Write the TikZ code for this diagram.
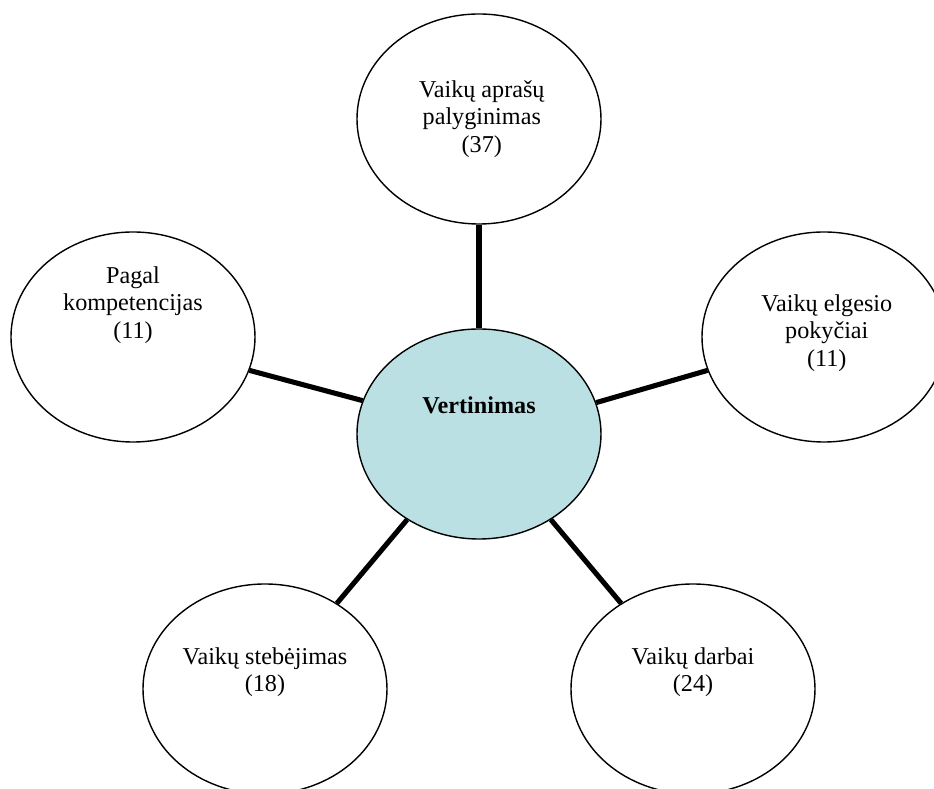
\documentclass[tikz,border=0pt]{standalone}
\usepackage{fontspec}
\setmainfont{Liberation Serif}
\usetikzlibrary{shapes.geometric,positioning}
\definecolor{evalblue}{RGB}{187,224,227}
\tikzstyle{bubble} = [ellipse, draw=black, line width=1pt, minimum width=6.1cm, minimum height=5.25cm, inner sep=0pt, fill=white]
\tikzstyle{spoke} = [line width=3.6pt]
\tikzstyle{txt} = [align=center, font=\fontsize{17.2}{19.4}\selectfont]
\pgfdeclarelayer{bg}
\pgfsetlayers{bg,main}

\begin{document}
\begin{tikzpicture}
    \useasboundingbox (-11.975,-8.875) rectangle (11.375,10.85);

    \node [bubble, fill=evalblue, label={[txt, yshift=0.725cm]center:\textbf{Vertinimas}}] (eval) at (0,0) {};

    \node [bubble, above of = eval, yshift = 6.875cm, label={[txt, xshift=0.07cm]center:Vaikų aprašų\\palyginimas\\(37)}] (compare) {};
    \node [bubble, left of = eval, xshift = -7.65cm, yshift = 2.425cm, label={[txt, yshift=0.8cm]center:Pagal\\kompetencijas\\(11)}] (competence) {};
    \node [bubble, right of = eval, xshift = 7.625cm, yshift = 2.425cm, label={[txt, xshift=0.07cm, yshift=0.1cm]center:Vaikų elgesio\\pokyčiai\\(11)}] (behaviour) {};
    \node [bubble, below of = eval, xshift = -5.35cm, yshift = -5.375cm, label={[txt, yshift=0.425cm]center:Vaikų stebėjimas\\(18)}] (observe) {};
    \node [bubble, below of = eval, xshift = 5.35cm, yshift = -5.375cm, label={[txt, yshift=0.425cm]center:Vaikų darbai\\(24)}] (works) {};

    \begin{pgfonlayer}{bg} % spokes behind the bubbles
    \draw[spoke] (compare.south) -- (eval.north);
    \draw[spoke] (competence.-16) -- (eval.164.6);
    \draw[spoke] (eval.15.4) -- (behaviour.196);
    \draw[spoke] (eval.230.5) -- (observe.50);
    \draw[spoke] (eval.310.3) -- (works.130);
    \end{pgfonlayer}
\end{tikzpicture}
\end{document}
